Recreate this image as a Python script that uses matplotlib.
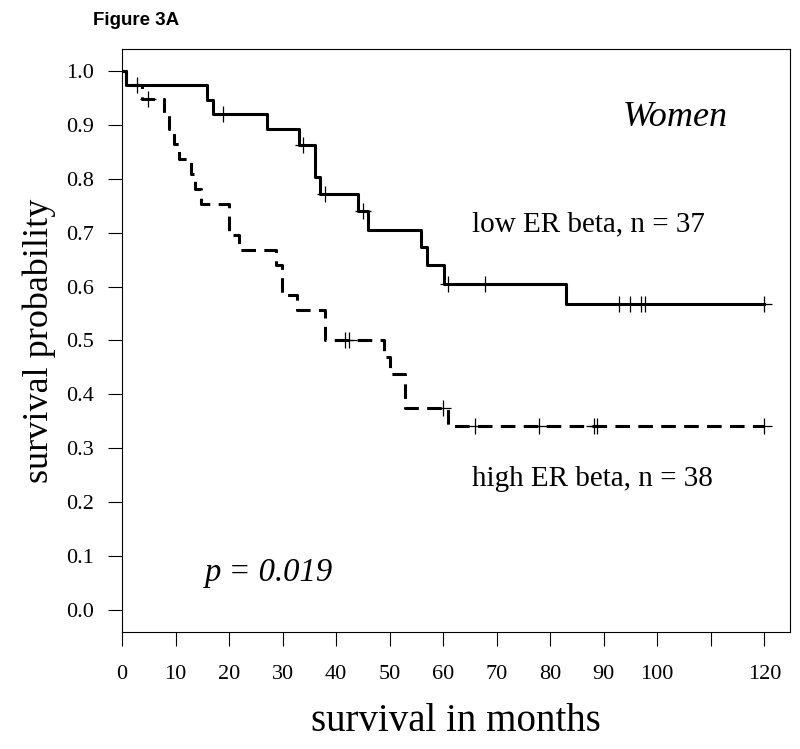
"""
Kaplan-Meier curves, women, low vs high ER beta (Figure 3A).
"""

import numpy as np
import matplotlib
matplotlib.use("Agg")
import matplotlib.pyplot as plt

plt.rcParams["font.family"] = ["Liberation Serif", "DejaVu Serif"]
plt.rcParams["lines.scale_dashes"] = False

# low ER beta, n = 37 (solid)
low_times = [0, 0.8, 15.8, 17.0, 27.0, 33.0, 36.0, 36.9, 44.0, 46.0, 55.8, 56.9, 60.1, 82.9]
low_surv = [1.0, 0.973, 0.946, 0.919, 0.891, 0.863, 0.803, 0.772, 0.739, 0.705, 0.673, 0.639, 0.605, 0.567]
low_censor = [18.8, 33.8, 37.9, 45.0, 60.9, 67.9, 92.9, 94.9, 96.9, 97.8, 120.0]

# high ER beta, n = 38 (dashed)
high_times = [0, 0.8, 3.7, 7.8, 8.7, 9.8, 10.7, 12.8, 13.6, 14.8, 20.0, 21.8,
              28.8, 29.8, 32.7, 38.0, 48.9, 50.0, 52.8, 60.9]
high_surv = [1.0, 0.974, 0.947, 0.919, 0.891, 0.864, 0.836, 0.808, 0.780, 0.752, 0.696, 0.668,
             0.640, 0.584, 0.556, 0.500, 0.469, 0.438, 0.375, 0.341]
high_censor = [2.8, 4.8, 41.6, 42.5, 60.0, 65.9, 77.9, 88.2, 88.8, 120.0]

end_time = 120.0

x_ticks = list(range(0, 130, 10))
x_tick_labels = [str(t) if t != 110 else "" for t in x_ticks]
y_ticks = [i / 10 for i in range(11)]
y_tick_labels = [f"{t:.1f}" for t in y_ticks]


def step_at(times, surv, t):
    idx = np.searchsorted(times, t, side="right") - 1
    return np.asarray(surv)[idx]


def draw_curve(ax, times, surv, censor, **style):
    xs = list(times) + [end_time]
    ys = list(surv) + [surv[-1]]
    ax.step(xs, ys, where="post", color="black", linewidth=2.2, **style)
    cy = step_at(times, surv, censor)
    ax.plot(censor, cy, linestyle="none", marker="+", markersize=11,
            markeredgewidth=0.9, color="black")


fig = plt.figure(figsize=(8, 7.49), dpi=100)
ax = fig.add_axes([0.1525, 0.1562, 0.835, 0.7784])

draw_curve(ax, low_times, low_surv, low_censor)
draw_curve(ax, high_times, high_surv, high_censor, dashes=(10.5, 6.0))

ax.set_xlim(0, 124.8)
ax.set_ylim(-0.04, 1.04)
ax.set_xticks(x_ticks)
ax.set_xticklabels(x_tick_labels)
ax.set_yticks(y_ticks)
ax.set_yticklabels(y_tick_labels)
ax.tick_params(axis="x", length=10.4, width=0.8, pad=13, labelsize=16)
ax.tick_params(axis="y", length=10.4, width=0.8, pad=10, labelsize=16)
for s in ax.spines.values():
    s.set_linewidth(0.8)

ax.set_xlabel("survival in months", fontsize=28, labelpad=14)
ax.set_ylabel("survival probability", fontsize=26, labelpad=7)

ax.text(103.3, 0.913, "Women", fontsize=26, style="italic", ha="center", va="center")
ax.text(65.3, 0.715, "low ER beta, n = 37", fontsize=21, ha="left", va="center")
ax.text(65.3, 0.243, "high ER beta, n = 38", fontsize=21, ha="left", va="center")
ax.text(15.4, 0.070, "p = 0.019", fontsize=23.5, style="italic", ha="left", va="center")

fig.text(0.116, 0.973, "Figure 3A", fontsize=13.5, fontweight="bold",
         family=["Liberation Sans", "DejaVu Sans"], ha="left", va="center")

fig.savefig("out.png", dpi=100)
plt.close(fig)
